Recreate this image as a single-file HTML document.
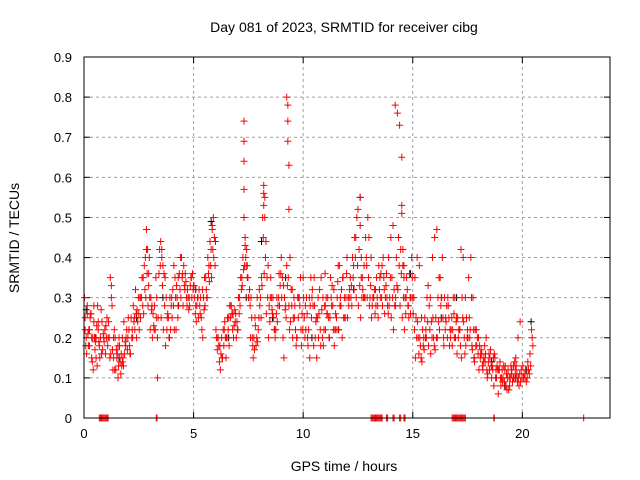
<!DOCTYPE html>
<html><head><meta charset="utf-8">
<style>
body{margin:0;background:#fff;}
svg{display:block;font-family:"Liberation Sans",sans-serif;}
</style></head>
<body>
<svg id="chart" width="640" height="480" viewBox="0 0 640 480">
<text x="344" y="32" font-size="14" text-anchor="middle">Day 081 of 2023, SRMTID for receiver cibg</text>
<text x="344" y="471" font-size="14" text-anchor="middle">GPS time / hours</text>
<text x="19" y="238" font-size="14" text-anchor="middle" transform="rotate(-90 19 238)">SRMTID / TECUs</text>
<g id="grid"></g>
<g id="marks"></g>
<rect x="84" y="57" width="526" height="361" fill="none" stroke="#000" stroke-width="1"/>
</svg>
<script>
const xTicks=[0,5,10,15,20];
const yTicks=[0,0.1,0.2,0.3,0.4,0.5,0.6,0.7,0.8,0.9];
const redT=[0.05,0.1,0.15,0.2,0.25,0.3,0.35,0.4,0.45,0.5,0.55,0.6,0.65,0.7,0.8,0.9,1.0,1.1,1.2,1.25,1.3,1.35,1.4,1.5,1.55,1.6,1.7,1.75,1.8,1.9,2.0,2.1,2.2,2.3,2.4,2.5,2.6,2.7,2.8,2.85,2.9,2.95,3.0,3.1,3.2,3.3,3.35,3.5,3.55,3.6,3.7,3.8,3.9,4.0,4.1,4.2,4.3,4.4,4.5,4.6,4.7,4.8,4.9,5.0,5.1,5.2,5.3,5.4,5.5,5.6,5.7,5.8,5.85,5.9,6.0,6.1,6.2,6.3,6.4,6.5,6.6,6.7,6.8,6.9,7.0,7.1,7.2,7.3,7.3,7.3,7.3,7.3,7.35,7.4,7.45,7.5,7.6,7.7,7.8,7.9,8.0,8.1,8.2,8.2,8.2,8.25,8.3,8.4,8.5,8.6,8.7,8.8,8.9,9.0,9.1,9.2,9.25,9.3,9.3,9.3,9.35,9.35,9.4,9.5,9.6,9.7,9.8,9.9,10.0,10.1,10.2,10.3,10.4,10.5,10.6,10.7,10.8,10.9,11.0,11.1,11.2,11.3,11.4,11.5,11.6,11.7,11.8,11.9,12.0,12.1,12.2,12.3,12.4,12.5,12.6,12.6,12.65,12.7,12.8,12.9,13.0,13.1,13.2,13.3,13.4,13.5,13.6,13.7,13.8,13.9,14.0,14.1,14.2,14.3,14.4,14.5,14.5,14.5,14.55,14.6,14.6,14.7,14.8,14.9,15.0,15.1,15.2,15.3,15.4,15.5,15.6,15.7,15.8,15.9,16.0,16.1,16.2,16.3,16.4,16.5,16.6,16.7,16.8,16.9,17.0,17.1,17.2,17.3,17.4,17.5,17.6,17.7,17.8,17.9,18.0,18.1,18.2,18.3,18.4,18.5,18.6,18.7,18.8,18.9,19.0,19.1,19.2,19.3,19.4,19.5,19.6,19.7,19.8,19.9,20.0,20.1,20.2,20.3,20.4,20.45];
const redV=[0.25,0.2,0.28,0.18,0.22,0.26,0.15,0.2,0.24,0.17,0.2,0.13,0.22,0.18,0.16,0.2,0.23,0.2,0.35,0.3,0.17,0.2,0.12,0.15,0.1,0.2,0.16,0.14,0.13,0.18,0.2,0.16,0.22,0.25,0.2,0.26,0.3,0.35,0.4,0.47,0.42,0.36,0.3,0.28,0.22,0.25,0.1,0.44,0.42,0.38,0.35,0.25,0.2,0.3,0.38,0.22,0.35,0.4,0.36,0.32,0.28,0.3,0.35,0.33,0.28,0.3,0.26,0.32,0.35,0.3,0.38,0.42,0.48,0.5,0.44,0.2,0.18,0.15,0.22,0.2,0.25,0.28,0.26,0.24,0.22,0.3,0.35,0.74,0.69,0.64,0.57,0.5,0.43,0.38,0.35,0.3,0.2,0.18,0.25,0.3,0.32,0.35,0.58,0.56,0.53,0.5,0.44,0.38,0.3,0.26,0.22,0.3,0.36,0.4,0.33,0.28,0.8,0.78,0.74,0.69,0.63,0.52,0.4,0.32,0.25,0.2,0.3,0.22,0.35,0.28,0.2,0.15,0.3,0.35,0.25,0.2,0.18,0.3,0.36,0.26,0.2,0.28,0.32,0.22,0.38,0.3,0.35,0.25,0.4,0.3,0.33,0.38,0.45,0.52,0.55,0.48,0.4,0.35,0.3,0.38,0.45,0.4,0.3,0.32,0.28,0.35,0.38,0.32,0.36,0.4,0.45,0.48,0.78,0.76,0.73,0.65,0.53,0.51,0.42,0.38,0.35,0.3,0.28,0.26,0.3,0.35,0.4,0.38,0.25,0.2,0.22,0.33,0.3,0.4,0.45,0.47,0.35,0.3,0.2,0.25,0.3,0.22,0.18,0.2,0.25,0.22,0.42,0.4,0.3,0.22,0.2,0.18,0.15,0.22,0.2,0.16,0.12,0.14,0.1,0.12,0.1,0.08,0.12,0.06,0.1,0.09,0.12,0.07,0.1,0.11,0.13,0.15,0.2,0.24];
const extraT=[0.05,0.15,0.25,0.35,0.45,0.55,0.65,0.75,0.85,0.95,1.05,1.15,1.25,1.35,1.45,1.55,1.65,1.75,1.85,1.95,2.05,2.15,2.25,2.35,2.45,2.55,2.65,2.75,2.85,2.95,3.05,3.15,3.25,3.35,3.45,3.55,3.65,3.75,3.85,3.95,4.05,4.15,4.25,4.35,4.45,4.55,4.65,4.75,4.85,4.95,5.05,5.15,5.25,5.35,5.45,5.55,5.65,5.75,5.85,5.95,6.05,6.15,6.25,6.35,6.45,6.55,6.65,6.75,6.85,6.95,7.05,7.15,7.25,7.35,7.45,7.55,7.65,7.75,7.85,7.95,8.05,8.15,8.25,8.35,8.45,8.55,8.65,8.75,8.85,8.95,9.05,9.15,9.25,9.35,9.45,9.55,9.65,9.75,9.85,9.95,10.05,10.15,10.25,10.35,10.45,10.55,10.65,10.75,10.85,10.95,11.05,11.15,11.25,11.35,11.45,11.55,11.65,11.75,11.85,11.95,12.05,12.15,12.25,12.35,12.45,12.55,12.65,12.75,12.85,12.95,13.05,13.15,13.25,13.35,13.45,13.55,13.65,13.75,13.85,13.95,14.05,14.15,14.25,14.35,14.45,14.55,14.65,14.75,14.85,14.95,15.05,15.15,15.25,15.35,15.45,15.55,15.65,15.75,15.85,15.95,16.05,16.15,16.25,16.35,16.45,16.55,16.65,16.75,16.85,16.95,17.05,17.15,17.25,17.35,17.45,17.55,17.65,17.75,17.85,17.95,18.05,18.15,18.25,18.35,18.45,18.55,18.65,18.75,18.85,18.95,19.05,19.15,19.25,19.35,19.45,19.55,19.65,19.75,19.85,19.95,20.05,20.15,20.25,20.35,20.45];
const extraV1=[.22,.26,.18,.2,.28,.15,.24,.2,.17,.22, .25,.2,.33,.15,.12,.18,.14,.2,.16,.22, .22,.25,.28,.32,.24,.3,.35,.38,.42,.33, .3,.26,.22,.2,.42,.4,.36,.3,.25,.22, .32,.35,.3,.36,.4,.38,.34,.3,.33,.36, .3,.28,.32,.25,.3,.35,.4,.44,.47,.45, .2,.18,.16,.22,.2,.25,.28,.26,.23,.2, .3,.35,.4,.45,.38,.32,.25,.2,.18,.22, .3,.5,.55,.35,.28,.3,.25,.22,.28,.33, .35,.3,.38,.28,.32,.25,.22,.3,.28,.26, .25,.3,.22,.35,.28,.2,.25,.32,.27,.22, .3,.25,.35,.28,.22,.3,.38,.32,.25,.3, .3,.35,.4,.45,.5,.42,.35,.3,.45,.5, .3,.28,.32,.35,.38,.36,.4,.3,.28,.3, .35,.32,.4,.45,.42,.38,.3,.32,.36,.4, .3,.25,.2,.18,.22,.25,.3,.28,.24,.2, .25,.3,.35,.4,.3,.28,.25,.22,.3,.2, .25,.22,.3,.2,.25,.35,.4,.3,.22,.2, .18,.16,.15,.2,.14,.17,.12,.15,.13,.12, .1,.13,.08,.12,.1,.09,.14,.11,.08,.12, .1,.12,.14,.16,.2];
const extraV2=[.18,.21,.25,.14,.2,.23,.19,.27,.21,.16, .18,.15,.28,.22,.17,.13,.11,.15,.19,.17, .18,.2,.24,.26,.3,.25,.28,.32,.36,.4, .27,.23,.35,.25,.38,.33,.28,.22,.2,.28, .28,.3,.25,.32,.35,.33,.3,.27,.35,.32, .26,.3,.28,.22,.27,.32,.36,.38,.42,.38, .17,.14,.2,.18,.15,.22,.25,.22,.27,.24, .26,.32,.37,.4,.35,.28,.2,.17,.2,.25, .25,.45,.4,.3,.24,.27,.22,.26,.3,.36, .2,.27,.33,.22,.28,.3,.18,.25,.35,.22, .2,.26,.3,.25,.18,.24,.3,.22,.2,.28, .26,.2,.3,.22,.26,.34,.28,.2,.3,.36, .28,.3,.35,.4,.38,.33,.3,.38,.4,.35, .33,.3,.26,.3,.32,.3,.35,.33,.26,.35, .3,.28,.33,.38,.36,.3,.26,.28,.3,.35, .22,.2,.16,.15,.18,.2,.24,.22,.2,.18, .2,.24,.28,.25,.22,.2,.18,.25,.26,.24, .2,.18,.25,.16,.2,.25,.3,.22,.18,.16, .15,.13,.18,.12,.16,.13,.15,.1,.12,.14, .12,.09,.11,.07,.13,.1,.12,.09,.11,.1, .11,.09,.12,.13,.18];
const extraV3=[.3,.16,.22,.26,.12,.19,.28,.15,.24,.19, .2,.24,.16,.12,.2,.16,.18,.13,.24,.2, .25,.16,.2,.22,.27,.22,.3,.26,.3,.28, .22,.2,.28,.3,.36,.25,.22,.18,.26,.3, .25,.22,.33,.28,.3,.28,.36,.32,.28,.3, .33,.24,.25,.3,.2,.28,.3,.34,.35,.4, .22,.2,.12,.15,.24,.2,.18,.28,.2,.26, .22,.28,.33,.38,.42,.3,.3,.15,.23,.19, .28,.33,.36,.26,.2,.35,.3,.2,.24,.28, .3,.15,.25,.35,.24,.2,.28,.2,.3,.18, .3,.22,.18,.28,.32,.28,.15,.26,.35,.18, .22,.3,.25,.33,.18,.25,.22,.28,.35,.25, .25,.32,.28,.32,.3,.28,.25,.32,.3,.3, .28,.25,.3,.28,.25,.3,.28,.26,.3,.28, .25,.22,.3,.32,.28,.25,.22,.35,.25,.3, .26,.15,.24,.2,.14,.17,.2,.18,.16,.25, .17,.2,.22,.3,.18,.24,.28,.2,.22,.3, .16,.22,.15,.24,.18,.2,.22,.17,.14,.18, .12,.17,.14,.16,.11,.15,.13,.16,.1,.12, .08,.1,.13,.1,.08,.12,.1,.13,.1,.09, .13,.1,.1,.11,.22];
const zeroT=[0.7,0.75,0.8,0.85,0.9,0.95,1.0,1.05,1.1,3.3,3.33,13.1,13.15,13.2,13.25,13.3,13.35,13.4,13.45,13.5,13.55,13.6,13.8,13.85,14.1,14.15,14.4,14.45,14.6,14.65,16.8,16.85,16.9,16.95,17.0,17.05,17.1,17.15,17.2,17.25,17.3,17.35,17.4,18.7,18.72,22.8];
const blackT=[0.1,0.5,1.6,2.4,3.6,4.3,5.1,5.8,6.6,7.4,8.1,8.6,9.2,9.8,10.4,11.0,11.6,12.3,12.6,13.2,14.2,14.9,15.6,16.3,17.0,17.8,18.6,19.2,19.7,20.2,20.4];
const blackV=[0.27,0.2,0.15,0.25,0.3,0.28,0.32,0.49,0.2,0.3,0.44,0.25,0.35,0.3,0.2,0.28,0.22,0.32,0.55,0.3,0.28,0.36,0.2,0.25,0.3,0.15,0.14,0.08,0.1,0.12,0.24];
const X0=84,X1=610,Y0=418,Y1=57;
function xs(t){return X0+(t/24)*(X1-X0);}
function ys(v){return Y0-(v/0.9)*(Y0-Y1);}
const NS="http://www.w3.org/2000/svg";
const grid=document.getElementById('grid'),marks=document.getElementById('marks');
function mk(tag,attrs,parent){const e=document.createElementNS(NS,tag);for(const k in attrs)e.setAttribute(k,attrs[k]);parent.appendChild(e);return e;}
xTicks.forEach(t=>{
  const x=xs(t);
  if(t>0){const g=mk('line',{x1:x,y1:Y0,x2:x,y2:Y1,stroke:'#a0a0a0','stroke-dasharray':'3,3'},grid);
  
  }
  const tk=mk('line',{x1:x,y1:Y0,x2:x,y2:Y0-6,stroke:'#000'},grid);
  
  
  const tk2=mk('line',{x1:x,y1:Y1,x2:x,y2:Y1+6,stroke:'#000'},grid);
  
  
  const lb=mk('text',{x:x,y:Y0+20,'font-size':13,'text-anchor':'middle'},grid);lb.textContent=t;
  
  
});
yTicks.forEach(v=>{
  const y=ys(v);
  if(v>0&&v<0.9){const g=mk('line',{x1:X0,y1:y,x2:X1,y2:y,stroke:'#a0a0a0','stroke-dasharray':'3,3'},grid);
  
  }
  const tk=mk('line',{x1:X0,y1:y,x2:X0+6,y2:y,stroke:'#000'},grid);
  
  
  const tk2=mk('line',{x1:X1,y1:y,x2:X1-6,y2:y,stroke:'#000'},grid);
  
  
  const lb=mk('text',{x:X0-12,y:y+5,'font-size':13,'text-anchor':'end'},grid);lb.textContent=v===0?'0':v.toFixed(1);
  
  
});
function plus(t,v,col,name){
  const x=xs(t),y=ys(v);
  const p=mk('path',{d:`M${x-3.5},${y}H${x+3.5}M${x},${y-3.5}V${y+3.5}`,stroke:col,'stroke-width':1,fill:'none'},marks);
  
  
}
blackT.forEach((t,i)=>plus(t,blackV[i],'#000','black-point'));
redT.forEach((t,i)=>plus(t,redV[i],'#ff0000','red-point'));
extraT.forEach((t,i)=>{
  plus(t,extraV1[i],'#ff0000','red-point');
  plus(t+0.03,extraV2[i],'#ff0000','red-point');
  plus(t-0.03,extraV3[i],'#ff0000','red-point');
});
zeroT.forEach(t=>plus(t,0,'#ff0000','zero-point'));
</script>
</body></html>
